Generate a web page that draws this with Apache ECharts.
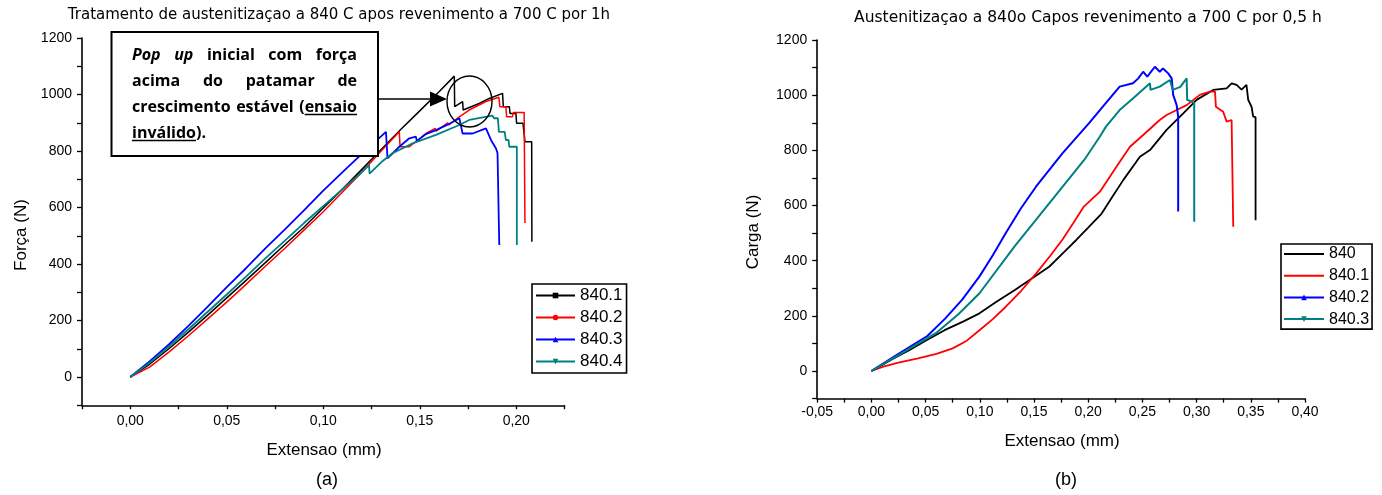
<!DOCTYPE html>
<html><head><meta charset="utf-8">
<script src="https://cdn.jsdelivr.net/npm/echarts@6/dist/echarts.min.js"></script>
<style>html,body{margin:0;padding:0;background:#fff}#c{width:1382px;height:495px}</style>
</head><body><div id="c"></div>
<script>
// ---------- texts ----------
const titleA = 'Tratamento de austenitizaçao a 840 C apos revenimento a 700 C por 1h';
const titleB = 'Austenitizaçao a 840o Capos revenimento a 700 C por 0,5 h';
const yNameA = 'Força (N)';
const yNameB = 'Carga (N)';
const xName = 'Extensao (mm)';
const namesA = ['840.1', '840.2', '840.3', '840.4'];
const namesB = ['840', '840.1', '840.2', '840.3'];

// ---------- tick labels ----------
const yTickLabels = [0, 200, 400, 600, 800, 1000, 1200];
const xTickLabelsA = [0, 0.05, 0.10, 0.15, 0.20];
const xTickLabelsB = [-0.05, 0, 0.05, 0.10, 0.15, 0.20, 0.25, 0.30, 0.35, 0.40];

// ---------- data: chart (a) [extensao mm, forca N] ----------
const a840_1 = [[0,0],[0.01,45],[0.02,100],[0.03,158],[0.04,218],[0.05,280],[0.06,342],[0.07,405],[0.08,468],[0.09,530],[0.10,598],[0.11,665],[0.12,735],[0.13,805],[0.14,875],[0.15,942],[0.16,1010],[0.1679,1065],[0.1681,957],[0.1722,975],[0.1725,945],[0.1808,968],[0.186,986],[0.1929,1004],[0.1933,957],[0.1964,957],[0.1968,933],[0.1998,933],[0.2002,898],[0.2035,898],[0.2045,833],[0.208,833],[0.2081,479]];
const a840_2 = [[0,0],[0.01,35],[0.02,88],[0.03,145],[0.04,205],[0.05,265],[0.06,328],[0.07,392],[0.08,455],[0.09,520],[0.10,585],[0.11,655],[0.12,725],[0.13,800],[0.1394,868],[0.1398,815],[0.1446,815],[0.1532,862],[0.158,880],[0.1585,870],[0.1645,900],[0.165,892],[0.1705,921],[0.1756,945],[0.1843,975],[0.191,990],[0.1915,957],[0.1946,957],[0.195,921],[0.198,921],[0.1985,936],[0.2041,936],[0.2045,545]];
const a840_3 = [[0,0],[0.01,55],[0.02,115],[0.03,180],[0.04,248],[0.05,318],[0.06,385],[0.07,455],[0.08,522],[0.09,590],[0.10,660],[0.11,725],[0.12,790],[0.1325,868],[0.1333,774],[0.1394,815],[0.1446,845],[0.148,851],[0.1485,835],[0.1532,860],[0.1584,874],[0.165,895],[0.1705,916],[0.1722,862],[0.1774,862],[0.1843,880],[0.1869,839],[0.1895,809],[0.1903,792],[0.1912,792],[0.1912,467]];
const a840_4 = [[0,0],[0.01,50],[0.02,108],[0.03,168],[0.04,230],[0.05,292],[0.06,355],[0.07,420],[0.08,482],[0.09,545],[0.10,605],[0.11,665],[0.12,725],[0.1237,750],[0.124,720],[0.13,760],[0.1359,792],[0.1463,827],[0.1584,857],[0.1705,892],[0.1756,910],[0.1877,925],[0.1885,916],[0.1905,916],[0.191,868],[0.194,868],[0.1946,839],[0.196,839],[0.1964,815],[0.2003,815],[0.2003,467]];

// ---------- data: chart (b) [extensao mm, carga N] ----------
const b840 = [[0,0],[0.01,22],[0.02,45],[0.0353,76],[0.05,110],[0.0675,148],[0.085,180],[0.0997,209],[0.115,250],[0.132,293],[0.148,335],[0.164,378],[0.18,440],[0.189,475],[0.2,520],[0.2124,571],[0.222,630],[0.2323,692],[0.2477,777],[0.257,801],[0.2723,874],[0.2877,934],[0.30,983],[0.3153,1019],[0.3277,1025],[0.3323,1043],[0.3369,1037],[0.3415,1020],[0.346,1037],[0.3476,983],[0.3507,958],[0.3522,922],[0.3544,920],[0.3544,547]];
const b840_1 = [[0,0],[0.011,16],[0.025,30],[0.043,46],[0.06,62],[0.075,82],[0.088,110],[0.0997,148],[0.112,188],[0.124,233],[0.138,290],[0.152,354],[0.165,418],[0.176,475],[0.186,535],[0.196,596],[0.2108,650],[0.2262,741],[0.2385,813],[0.252,860],[0.266,910],[0.2723,928],[0.2816,946],[0.2908,964],[0.303,1001],[0.3123,1013],[0.317,1013],[0.3178,958],[0.3245,940],[0.3277,904],[0.3323,910],[0.3338,910],[0.3338,523]];
const b840_2 = [[0,0],[0.01,25],[0.025,62],[0.0516,127],[0.068,190],[0.0838,259],[0.0999,344],[0.112,420],[0.124,500],[0.138,590],[0.152,669],[0.1764,790],[0.2006,898],[0.2108,946],[0.229,1031],[0.2413,1043],[0.246,1060],[0.2507,1085],[0.2545,1067],[0.2615,1103],[0.266,1085],[0.269,1097],[0.2738,1079],[0.277,1061],[0.2784,1001],[0.2816,964],[0.283,922],[0.283,578]];
const b840_3 = [[0,0],[0.01,24],[0.025,58],[0.0594,137],[0.08,205],[0.0997,282],[0.1319,451],[0.164,608],[0.1963,765],[0.2108,850],[0.2164,886],[0.229,946],[0.2415,989],[0.257,1043],[0.2575,1019],[0.266,1031],[0.2754,1055],[0.278,1019],[0.285,1030],[0.2908,1061],[0.2913,983],[0.2954,977],[0.2978,971],[0.2978,541]];

// ---------- build ----------
const SANS = '"Liberation Sans", Arial, sans-serif';
const TITLEF = '"DejaVu Sans", sans-serif';
const colors = ['#000000', '#ff0000', '#0000ff', '#008080'];

function xFmt(ticks) {
  return v => ticks.some(t => Math.abs(t - v) < 1e-9) ? (Math.abs(v) < 1e-9 ? '0,00' : v.toFixed(2).replace('.', ',')) : '';
}
function yFmt(v) { return yTickLabels.indexOf(Math.round(v)) >= 0 ? String(Math.round(v)) : ''; }

function xAxis(idx, min, max, ticks, margin) {
  return {
    type: 'value', gridIndex: idx, min, max, interval: 0.025,
    axisLine: { show: true, onZero: false, lineStyle: { color: '#000', width: 1.6 } },
    axisTick: { show: true, inside: false, length: 4, lineStyle: { color: '#000', width: 1.3 } },
    axisLabel: { formatter: xFmt(ticks), color: '#000', fontFamily: SANS, fontSize: 14, margin, showMinLabel: true, showMaxLabel: true, hideOverlap: false },
    splitLine: { show: false }
  };
}
function yAxis(idx) {
  return {
    type: 'value', gridIndex: idx, min: -100, max: 1200, interval: 100,
    axisLine: { show: true, onZero: false, lineStyle: { color: '#000', width: 1.6 } },
    axisTick: { show: true, inside: false, length: 5, lineStyle: { color: '#000', width: 1.3 } },
    axisLabel: { formatter: yFmt, color: '#000', fontFamily: SANS, fontSize: 14, margin: 10, showMinLabel: true, showMaxLabel: true, hideOverlap: false },
    splitLine: { show: false }
  };
}
function line(name, data, color, symbol, rot, gi, w) {
  return {
    type: 'line', name, data, xAxisIndex: gi, yAxisIndex: gi,
    showSymbol: false, symbol, symbolRotate: rot, symbolSize: 5,
    color, lineStyle: { color, width: w }, itemStyle: { color },
    animation: false, silent: true, z: 3
  };
}

const series = [
  line(namesA[0], a840_1, colors[0], 'rect', 0, 0, 1.5),
  line(namesA[1], a840_2, colors[1], 'circle', 0, 0, 1.5),
  line(namesA[2], a840_3, colors[2], 'triangle', 0, 0, 1.8),
  line(namesA[3], a840_4, colors[3], 'triangle', 180, 0, 1.8),
  line('B:' + namesB[0], b840, colors[0], 'circle', 0, 1, 1.8),
  line('B:' + namesB[1], b840_1, colors[1], 'circle', 0, 1, 1.8),
  line('B:' + namesB[2], b840_2, colors[2], 'triangle', 0, 1, 2),
  line('B:' + namesB[3], b840_3, colors[3], 'triangle', 180, 1, 2)
];

// ---------- annotation (justified bold text) ----------
const ANNF = '"Open Sans", Lato, sans-serif';
const FS = 16;
const meas = document.createElement('canvas').getContext('2d');
function tw(t, italic) { meas.font = (italic ? 'italic ' : '') + 'bold ' + FS + 'px ' + ANNF; return meas.measureText(t).width; }
const annLines = [
  { y: 55, justify: true, words: [{ t: 'Pop', i: true }, { t: 'up', i: true }, { t: 'inicial' }, { t: 'com' }, { t: 'força' }] },
  { y: 81, justify: true, words: [{ t: 'acima' }, { t: 'do' }, { t: 'patamar' }, { t: 'de' }] },
  { y: 107, justify: true, words: [{ t: 'crescimento' }, { t: 'estável' }, { t: '(ensaio', u: ['(', 'ensaio'] }] },
  { y: 133, justify: false, words: [{ t: 'inválido).', u: ['', 'inválido'] }] }
];
const annX0 = 132, annX1 = 357;
const graphics = [];
graphics.push({ type: 'rect', z: 50, shape: { x: 111.5, y: 32, width: 266.5, height: 124 }, style: { fill: '#fff', stroke: '#000', lineWidth: 2 } });
annLines.forEach(L => {
  const ws = L.words.map(w => tw(w.t, w.i));
  const total = ws.reduce((a, b) => a + b, 0);
  const gap = L.justify && L.words.length > 1 ? (annX1 - annX0 - total) / (L.words.length - 1) : 6;
  let x = annX0;
  L.words.forEach((w, k) => {
    graphics.push({ type: 'text', z: 51, x: x, y: L.y, style: { text: w.t, font: (w.i ? 'italic ' : '') + 'bold ' + FS + 'px ' + ANNF, fill: '#000', textAlign: 'left', verticalAlign: 'middle' } });
    if (w.u) {
      const ux = x + tw(w.u[0], false), uw = tw(w.u[1], false);
      graphics.push({ type: 'line', z: 51, shape: { x1: ux, y1: L.y + 7.5, x2: ux + uw, y2: L.y + 7.5 }, style: { stroke: '#000', lineWidth: 1.3 } });
    }
    x += ws[k] + gap;
  });
});
// arrow and circle
graphics.push({ type: 'line', z: 50, shape: { x1: 378, y1: 99, x2: 432, y2: 99 }, style: { stroke: '#000', lineWidth: 1.6 } });
graphics.push({ type: 'polygon', z: 50, shape: { points: [[447, 99], [430, 91.5], [430, 106.5]] }, style: { fill: '#000' } });
graphics.push({ type: 'circle', z: 50, x: 469.5, y: 101.5, scaleX: 22.5 / 25.5, shape: { cx: 0, cy: 0, r: 25.5 }, style: { fill: 'none', stroke: '#000', lineWidth: 1.6 } });

// titles, axis names, panel letters
function txt(t, x, y, font, rot) {
  const g = { type: 'text', z: 40, x, y, style: { text: t, font, fill: '#000', textAlign: 'center', verticalAlign: 'middle' } };
  if (rot) g.rotation = rot;
  return g;
}
graphics.push(txt(titleA, 339, 15, '15px ' + TITLEF));
graphics.push(txt(titleB, 1088, 18, '15.5px ' + TITLEF));
graphics.push(txt(yNameA, 21, 235, '17px ' + SANS, Math.PI / 2));
graphics.push(txt(yNameB, 753, 232, '17px ' + SANS, Math.PI / 2));
graphics.push(txt(xName, 324, 450, '17px ' + SANS));
graphics.push(txt(xName, 1062, 441, '17px ' + SANS));
graphics.push(txt('(a)', 327, 480, '18px ' + SANS));
graphics.push(txt('(b)', 1066, 480, '18px ' + SANS));

const option = {
  backgroundColor: '#fff',
  animation: false,
  grid: [
    { left: 82, top: 38, width: 482.5, height: 367.25 },
    { left: 817.2, top: 40, width: 487.8, height: 358.6 }
  ],
  xAxis: [xAxis(0, -0.025, 0.225, xTickLabelsA, 9), xAxis(1, -0.05, 0.40, xTickLabelsB, 7)],
  yAxis: [yAxis(0), yAxis(1)],
  legend: [
    {
      data: namesA, orient: 'vertical', left: 532, top: 284, padding: [3, 4, 3, 3], itemGap: 5,
      itemWidth: 39, itemHeight: 7, borderColor: '#000', borderWidth: 1.6, backgroundColor: '#fff',
      selectedMode: false, textStyle: { fontFamily: SANS, fontSize: 17, color: '#000' }
    },
    {
      data: namesB.map((n, i) => i < 2 ? { name: 'B:' + n, itemStyle: { opacity: 0 } } : { name: 'B:' + n }),
      formatter: n => n.replace('B:', ''),
      orient: 'vertical', left: 1281, top: 244, padding: [2, 3, 2, 2], itemGap: 5.7,
      itemWidth: 40, itemHeight: 7, borderColor: '#000', borderWidth: 1.6, backgroundColor: '#fff',
      selectedMode: false, textStyle: { fontFamily: SANS, fontSize: 16, color: '#000' }
    }
  ],
  series,
  graphic: graphics
};
const chart = echarts.init(document.getElementById('c'), null, { renderer: 'canvas' });
chart.setOption(option);
</script>
</body></html>
